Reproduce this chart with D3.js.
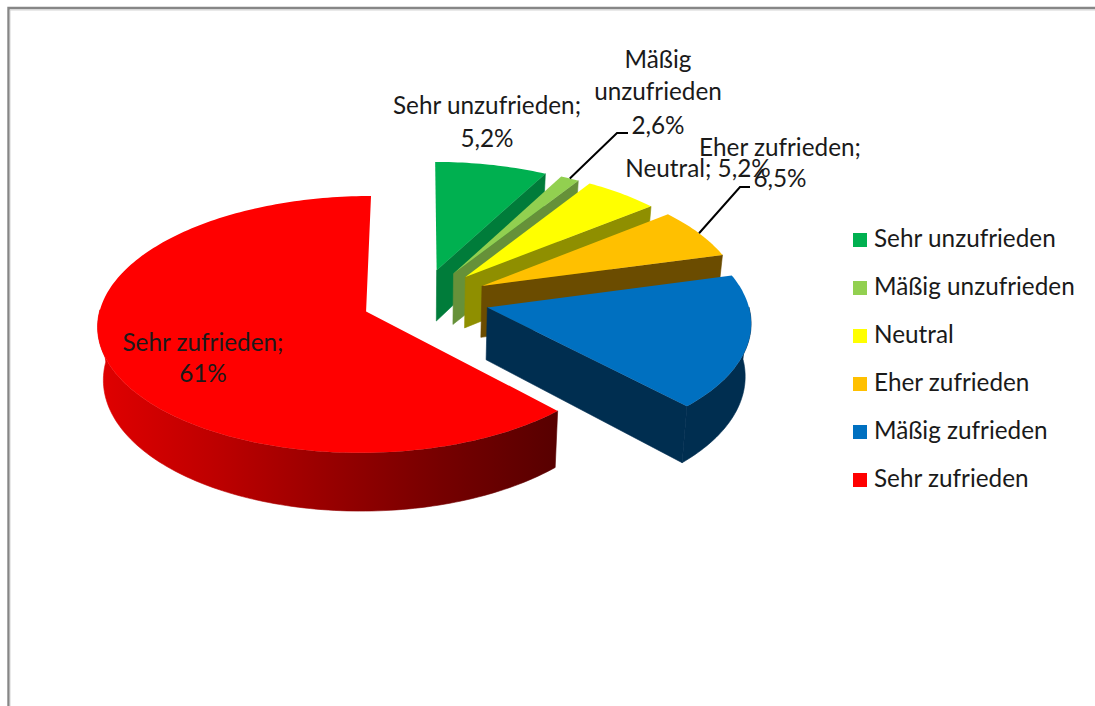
<!DOCTYPE html>
<html lang="de">
<head>
<meta charset="utf-8">
<script src="https://cdn.jsdelivr.net/npm/d3@7/dist/d3.min.js"></script>
<style>
html,body{margin:0;padding:0;background:#fff;}
svg{display:block;}
text{font-family:Lato,"Open Sans",sans-serif;}
</style>
</head>
<body>
<svg id="chart" width="1095" height="706"></svg>
<script>
// ---- data ----
const categories = ["Sehr unzufrieden","Mäßig unzufrieden","Neutral","Eher zufrieden","Mäßig zufrieden","Sehr zufrieden"];
const shares = [7.8,1.3,5.2,6.5,18.2,61.0];
const labelLines = [
  ["Sehr unzufrieden;","5,2%"],
  ["Mäßig","unzufrieden","2,6%"],
  ["Neutral; 5,2%"],
  ["Eher zufrieden;","6,5%"],
  [],
  ["Sehr zufrieden;","61%"]
];
const topColors  = ["#00B050","#92D050","#FFFF00","#FFC000","#0070C0","#FF0000"];
const sideColors = ["#007C3A","#669139","#8F8F00","#6B4C00","#002E50","url(#redWall)"];
const explode = [0.27,0.26,0.265,0.27,0.27,0.215];
const lift = [0.01,0,0,0,-0.03,0.01];

// ---- layout ----
const W = 1095, H = 706;
const cam = {cx:420, cy:301, a:267, b:125, p:0.10, depth:52, squeeze:0.982};
const fontSize = 24.3;
const labelLayout = [
  {x:487, y:[114,147]},
  {x:658, y:[68,100,134], leader:[617,133,628,133]},
  {x:698, y:[177]},
  {x:780, y:[156,187], leader:[740,187,750,187]},
  null,
  {x:203, y:[351,382]}
];
const legendX = d3.scaleLinear().domain([0,1]).range([853,867]);
const legendY = d3.scaleLinear().domain([0,5]).range([233,473]);

const svg = d3.select("#chart");

// frame
const frame = svg.append("g");
frame.append("path").attr("d",`M8.5,${H} V8 H${W}`).attr("fill","none").attr("stroke","#868686").attr("stroke-width",2.4);
frame.append("path").attr("d",`M10,${H} V10 H${W}`).attr("fill","none").attr("stroke","#c8c8c8").attr("stroke-width",0.8);

// red wall gradient
const grad = svg.append("defs").append("linearGradient").attr("id","redWall")
  .attr("gradientUnits","userSpaceOnUse").attr("x1",100).attr("x2",555).attr("y1",0).attr("y2",0);
[[0,"#E00000"],[0.25,"#BE0000"],[0.5,"#980000"],[0.75,"#760000"],[1,"#580000"]].forEach(s=>
  grad.append("stop").attr("offset",s[0]).attr("stop-color",s[1]));

// geometry
const slices = d3.pie().sort(null).startAngle(0).endAngle(2*Math.PI)(shares);
const xScale = d3.scaleLinear().domain([-1,0,1]).range([cam.cx-cam.a*0.99,cam.cx,cam.cx+cam.a*0.975]);
const yScale = d3.scaleLinear().domain([0,1]).range([cam.cy,cam.cy+cam.b]);
// the 3-D view turns the lower right of the pie slightly
const DEG = Math.PI/180;
const viewAngle = d3.scaleLinear().domain([0,75,140.4,200,360].map(v=>v*DEG)).range([0,75,136.5,200,360].map(v=>v*DEG));
function project(X,Y,lower){
  const s = 1/(1-cam.p*Y);
  let x = xScale(X*s), y = yScale(Y*s);
  if(lower){ x = cam.cx+(x-cam.cx)*cam.squeeze; y += cam.depth*s; }
  return [x,y];
}
function apexOf(d,i){
  const m=(d.startAngle+d.endAngle)/2;
  return [explode[i]*Math.sin(m), -explode[i]*Math.cos(m)+lift[i]];
}
function rim(d,i,th,lower){
  const o=apexOf(d,i), v=viewAngle(th);
  return project(o[0]+Math.sin(v), o[1]-Math.cos(v), lower);
}
function arcAngles(a0,a1){
  const n=Math.max(4,Math.ceil((a1-a0)/0.02));
  return d3.range(n+1).map(k=>a0+(a1-a0)*k/n);
}
const line = d3.line().curve(d3.curveLinearClosed);

const pie = svg.append("g");
slices.forEach((d,i)=>{
  const g = pie.append("g").attr("class","slice");
  const o = apexOf(d,i);
  const angs = arcAngles(d.startAngle,d.endAngle);
  // outer wall (only the part facing the viewer)
  const front = angs.filter(t=>Math.cos(viewAngle(t))<=0.02);
  if(front.length>1){
    const top = front.map(t=>rim(d,i,t,false));
    const bot = front.map(t=>rim(d,i,t,true)).reverse();
    g.append("path").attr("d",line(top.concat(bot))).attr("fill",sideColors[i]).attr("stroke",sideColors[i]).attr("stroke-width",0.6);
  }
  // cut face at the end of the slice
  if(d.endAngle<Math.PI){
    const a=project(o[0],o[1],false), b=rim(d,i,d.endAngle,false),
          c=rim(d,i,d.endAngle,true), e=project(o[0],o[1],true);
    g.append("path").attr("d",line([a,b,c,e])).attr("fill",sideColors[i]).attr("stroke",sideColors[i]).attr("stroke-width",0.6);
  }
  // top surface
  const pts=[project(o[0],o[1],false)].concat(angs.map(t=>rim(d,i,t,false)));
  g.append("path").attr("d",line(pts)).attr("fill",topColors[i]);
});

// labels and leader lines
slices.forEach((d,i)=>{
  const l=labelLayout[i];
  if(!l) return;
  labelLines[i].forEach((t,k)=>{
    svg.append("text").attr("x",l.x).attr("y",l.y[k]).attr("text-anchor","middle")
      .attr("font-size",fontSize).attr("fill","#1a1a1a").text(t);
  });
  if(l.leader){
    const s=rim(d,i,(d.startAngle+d.endAngle)/2,false);
    svg.append("path")
      .attr("d",d3.line()([s,[l.leader[0],l.leader[1]],[l.leader[2],l.leader[3]]]))
      .attr("fill","none").attr("stroke","#000").attr("stroke-width",2);
  }
});

// legend
const legend = svg.append("g").selectAll("g").data(categories).join("g");
legend.append("rect")
  .attr("x",legendX(0)).attr("y",(d,i)=>legendY(i))
  .attr("width",legendX(1)-legendX(0)).attr("height",legendX(1)-legendX(0))
  .attr("fill",(d,i)=>topColors[i]);
legend.append("text")
  .attr("x",874).attr("y",(d,i)=>legendY(i)+14)
  .attr("font-size",fontSize).attr("fill","#1a1a1a").text(d=>d);
</script>
</body>
</html>
